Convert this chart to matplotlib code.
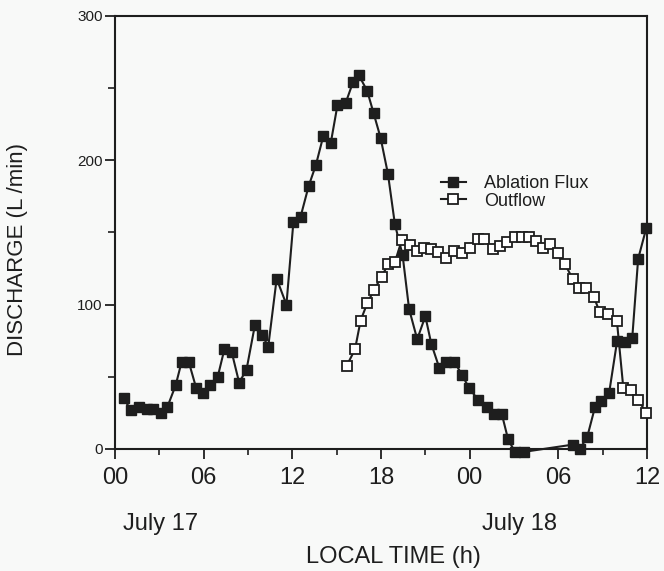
import matplotlib.pyplot as plt
from matplotlib.ticker import MultipleLocator, FixedLocator

plt.rcParams['font.family'] = ['Liberation Sans', 'DejaVu Sans']

# hours since 00:00 July 17
ablation_t = [0.6, 1.06, 1.65, 2.14, 2.6, 3.09, 3.54, 4.1, 4.5, 5.0, 5.5, 5.93,
              6.43, 6.95, 7.4, 7.9, 8.4, 8.9, 9.47, 9.95, 10.37, 10.94, 11.6,
              12.07, 12.56, 13.1, 13.6, 14.1, 14.6, 15.05, 15.6, 16.1, 16.5,
              17.07, 17.5, 17.97, 18.47, 18.94, 19.46, 19.9, 20.45, 21.0, 21.4,
              21.95, 22.4, 22.96, 23.5, 23.97, 24.58, 25.19, 25.66, 26.18, 26.6,
              27.06, 27.67, 30.97, 31.46, 31.96, 32.48, 32.88, 33.44, 33.98,
              34.5, 35.0, 35.4, 35.95]
ablation_q = [35, 27, 29, 28, 28, 25, 29, 44, 60, 60, 42, 39,
              44, 50, 69, 67, 46, 55, 86, 79, 71, 118, 100,
              157, 161, 182, 197, 217, 212, 238, 239.5, 254, 259,
              248, 232.6, 215.7, 190.6, 155.7, 134.4, 97, 76, 92, 73,
              56, 60.5, 60.5, 51, 42, 34, 29, 24, 24, 6.7,
              -2, -2, 3, 0, 8.5, 29, 33.5, 39, 75,
              74, 76.7, 131.7, 153]

outflow_t = [15.68, 16.24, 16.62, 17.07, 17.52, 18.04, 18.49, 18.94, 19.4,
             19.93, 20.43, 20.93, 21.38, 21.87, 22.4, 22.96, 23.5, 24.02,
             24.55, 25.0, 25.55, 26.05, 26.5, 27.06, 27.53, 28.02, 28.5,
             28.95, 29.43, 29.97, 30.44, 30.96, 31.42, 31.9, 32.4, 32.8,
             33.38, 33.96, 34.4, 34.9, 35.4, 35.96]
outflow_q = [57.7, 69, 89, 101, 110, 119.5, 128, 129.5, 144.5,
             141, 137.5, 139.5, 138.5, 136.5, 132, 137.5, 135.5, 139.5,
             145.5, 145.5, 138.5, 140.5, 143.7, 147, 147, 147, 144,
             139.3, 142, 136, 128.3, 118, 111.7, 111.7, 105.5, 94.7,
             93.3, 89, 42, 41, 34, 25]

x_ticks = [0, 6, 12, 18, 24, 30, 36]
x_labels = ['00', '06', '12', '18', '00', '06', '12']

ink = '#1e1e1e'
bg = '#f8f9f8'

fig = plt.figure(figsize=(6.64, 5.71), dpi=100, facecolor=bg)
ax = fig.add_axes([0.1732, 0.2137, 0.8012, 0.7583])
ax.set_facecolor(bg)

ax.plot(ablation_t, ablation_q, color=ink, lw=1.5, marker='s', ms=7,
        mfc=ink, mec=ink, label='Ablation Flux', clip_on=False, zorder=3)
ax.plot(outflow_t, outflow_q, color=ink, lw=1.5, marker='s', ms=7,
        mfc='white', mec=ink, mew=1.3, label='Outflow', clip_on=False, zorder=3)

ax.set_xlim(0, 36)
ax.set_ylim(0, 300)
ax.xaxis.set_major_locator(FixedLocator(x_ticks))
ax.set_xticklabels(x_labels)
ax.xaxis.set_minor_locator(MultipleLocator(3))
ax.yaxis.set_major_locator(MultipleLocator(100))
ax.yaxis.set_minor_locator(MultipleLocator(50))

for s in ax.spines.values():
    s.set_linewidth(1.5)
    s.set_color(ink)

ax.tick_params(axis='x', which='major', direction='out', length=7, width=1.3,
               labelsize=17, pad=6, colors=ink)
ax.tick_params(axis='x', which='minor', direction='out', length=4, width=1.2,
               colors=ink)
ax.tick_params(axis='y', which='major', direction='out', length=7, width=1.3,
               labelsize=11, pad=2, colors=ink)
ax.tick_params(axis='y', which='minor', direction='out', length=5, width=1.2,
               colors=ink)

fig.text(18 / 664, 1 - 250 / 571, 'DISCHARGE (L /min)', fontsize=16,
         color=ink, rotation=90, ha='center', va='center')
fig.text(161 / 664, 1 - 524 / 571, 'July 17', fontsize=17, color=ink,
         ha='center', va='center')
fig.text(520 / 664, 1 - 524 / 571, 'July 18', fontsize=17, color=ink,
         ha='center', va='center')
fig.text(393 / 664, 1 - 557 / 571, 'LOCAL TIME (h)', fontsize=17, color=ink,
         ha='center', va='center')

ax.legend(loc='upper left', bbox_to_anchor=(0.612, 0.633), frameon=False,
          fontsize=13, borderpad=0, borderaxespad=0, handlelength=1.4,
          handletextpad=1.0, labelspacing=0.05, labelcolor=ink)

fig.savefig('out.png', dpi=100, facecolor=bg)
